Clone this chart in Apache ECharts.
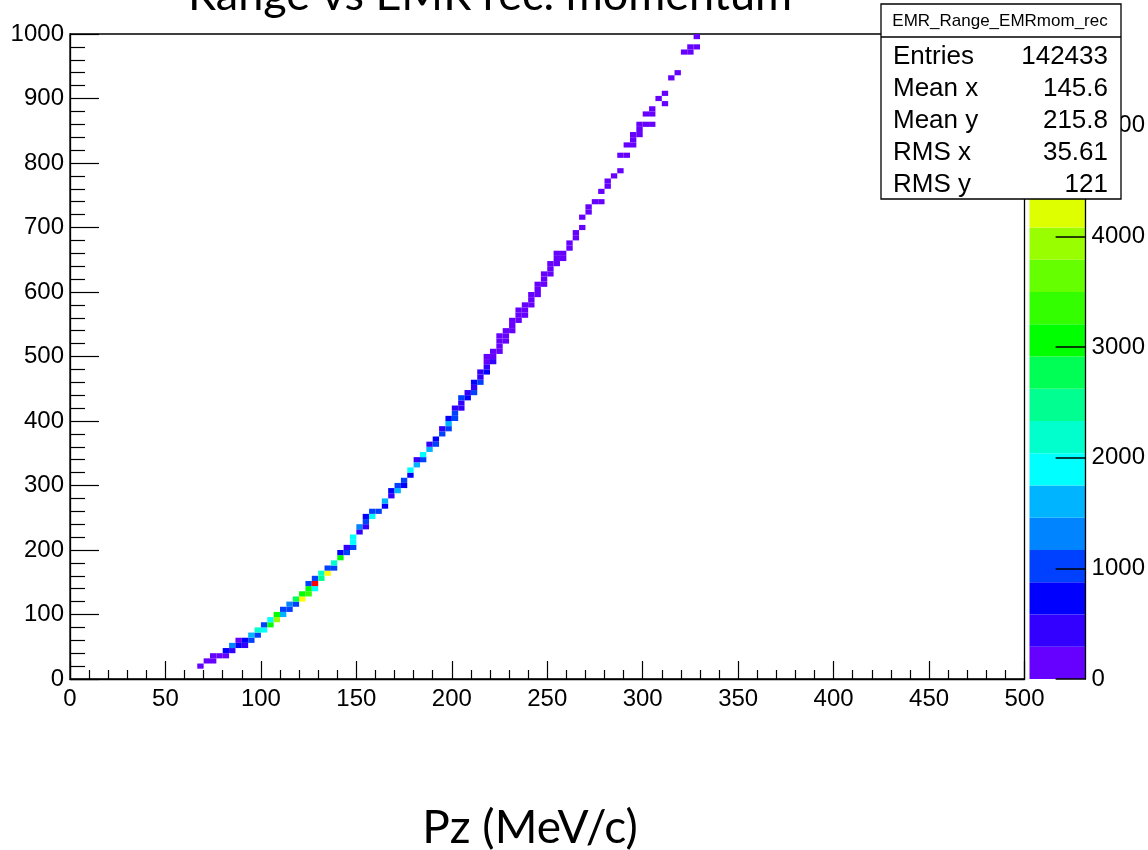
<!DOCTYPE html>
<html><head><meta charset="utf-8">
<script src="https://cdn.jsdelivr.net/npm/echarts@6/dist/echarts.min.js"></script>
<style>html,body{margin:0;padding:0;background:#fff}#c{width:1148px;height:850px}</style>
</head><body><div id="c"></div>
<script>
const chartTitle = 'Range vs EMR rec. momentum';
const xTitle = 'Pz (MeV/c)';
const statsName = 'EMR_Range_EMRmom_rec';
const statsLabels = ['Entries', 'Mean x', 'Mean y', 'RMS x', 'RMS y'];
const statsValues = ['142433', '145.6', '215.8', '35.61', '121'];

// histogram bin widths (x: MeV/c, y: range)
const xBinWidth = 10 / 3;
const yBinWidth = 8;

// colour contour levels of the z axis and their colours
const contourLevels = [0, 291.5, 583, 874.5, 1166, 1457.5, 1749, 2040.5, 2332, 2623.5, 2915,
  3206.5, 3498, 3789.5, 4081, 4372.5, 4664, 4955.5, 5247, 5538.5, 5830];
const paletteColors = ['#6600ff', '#3300ff', '#0000ff', '#0040ff', '#0084ff', '#00b4ff', '#00ffff',
  '#00ffcc', '#00ff90', '#00ff55', '#00ff00', '#33ff00', '#66ff00', '#99ff00', '#ddff00',
  '#ffff00', '#ffcc00', '#ff9900', '#ff5500', '#ff0000'];

// filled bins: lower x edge, lower y edge, content
const cellX = [66.67, 70, 73.33, 73.33, 76.67, 80, 80, 83.33, 83.33, 86.67, 86.67, 90, 90, 93.33, 93.33,
  96.67, 96.67, 100, 100, 103.33, 103.33, 106.67, 106.67, 110, 110, 113.33, 113.33, 116.67, 116.67,
  120, 120, 123.33, 123.33, 123.33, 126.67, 126.67, 126.67, 130, 130, 133.33, 133.33, 136.67, 136.67,
  140, 140, 143.33, 143.33, 146.67, 146.67, 146.67, 150, 150, 153.33, 153.33, 153.33, 156.67, 156.67,
  160, 163.33, 163.33, 166.67, 166.67, 170, 170, 173.33, 173.33, 176.67, 176.67, 180, 180, 183.33, 183.33,
  186.67, 186.67, 190, 190, 193.33, 193.33, 196.67, 196.67, 196.67, 200, 200, 200, 203.33, 203.33, 203.33,
  206.67, 206.67, 210, 210, 210, 213.33, 213.33, 213.33, 216.67, 216.67, 216.67, 216.67, 220, 220, 220,
  223.33, 223.33, 223.33, 223.33, 226.67, 226.67, 226.67, 230, 230, 230, 233.33, 233.33, 233.33,
  236.67, 236.67, 236.67, 240, 240, 240, 243.33, 243.33, 243.33, 246.67, 246.67, 246.67, 250, 250, 250,
  253.33, 253.33, 253.33, 256.67, 256.67, 260, 260, 263.33, 263.33, 266.67, 266.67, 270, 270, 273.33,
  276.67, 276.67, 280, 280, 283.33, 286.67, 286.67, 290, 290, 293.33, 293.33, 293.33, 296.67, 296.67, 296.67,
  300, 300, 303.33, 303.33, 303.33, 306.67, 310, 310, 313.33, 316.67, 320, 323.33, 323.33, 326.67, 326.67];
const cellY = [16, 24, 24, 32, 32, 32, 40, 40, 48, 48, 56, 48, 56, 56, 64,
  64, 72, 72, 80, 80, 88, 88, 96, 96, 104, 104, 112, 112, 120,
  120, 128, 128, 136, 144, 136, 144, 152, 152, 160, 160, 168, 168, 176,
  184, 192, 192, 200, 200, 208, 216, 224, 232, 232, 240, 248, 248, 256,
  256, 264, 272, 280, 288, 288, 296, 296, 304, 312, 320, 328, 336, 336, 344,
  352, 360, 360, 368, 376, 384, 384, 392, 400, 400, 408, 416, 416, 424, 432,
  432, 440, 440, 448, 456, 456, 464, 472, 472, 480, 488, 496, 488, 496, 504,
  504, 512, 520, 528, 520, 528, 536, 536, 544, 552, 552, 560, 568,
  560, 568, 576, 576, 584, 592, 592, 600, 608, 608, 616, 624, 624, 632, 640,
  640, 648, 656, 648, 656, 664, 672, 680, 688, 696, 712, 720, 728, 736,
  736, 752, 760, 768, 776, 784, 808, 808, 824, 824, 832, 840, 840, 848, 856,
  856, 872, 856, 872, 880, 896, 888, 904, 928, 936, 968, 968, 976, 976, 992];
const cellZ = [150, 200, 200, 250, 250, 250, 700, 450, 1300, 800, 250, 400, 700, 900, 1600,
  1000, 2100, 1900, 1100, 3100, 2000, 3900, 3200, 1700, 1000, 1100, 1300, 1000, 2900,
  4500, 3100, 3400, 3000, 1100, 2000, 5700, 900, 2500, 2200, 4600, 900, 1000, 2300,
  3000, 700, 1000, 500, 900, 1800, 1900, 300, 1200, 400, 1000, 600, 1900, 900,
  1100, 800, 1700, 300, 800, 1500, 900, 700, 1000, 600, 1800, 1600, 400, 900, 1800,
  1500, 400, 900, 800, 1000, 500, 1100, 1500, 600, 1000, 900, 300, 400, 350, 900,
  600, 500, 900, 400, 600, 900, 500, 300, 700, 400, 250, 200, 300, 250, 250,
  250, 200, 200, 150, 150, 200, 200, 200, 200, 200, 200, 200, 150,
  150, 200, 200, 200, 200, 150, 200, 200, 150, 200, 200, 100, 150, 150, 100,
  150, 150, 100, 150, 150, 100, 100, 100, 100, 80, 80, 80, 80, 80,
  60, 60, 60, 60, 60, 60, 50, 50, 50, 50, 50, 50, 50, 50, 40,
  40, 40, 40, 40, 40, 30, 30, 30, 30, 30, 30, 30, 30, 30, 40];

function colorFor(z) {
  for (let i = 0; i < paletteColors.length; i++) {
    if (z < contourLevels[i + 1]) return paletteColors[i];
  }
  return paletteColors[paletteColors.length - 1];
}

const cells = cellX.map((x, i) => [x, cellY[i], cellZ[i]]);
const bands = paletteColors.map((c, i) => [contourLevels[i], contourLevels[i + 1], i]);

const tickFont = 'Liberation Sans';
const plainNum = v => String(v);
const chart = echarts.init(document.getElementById('c'), null, {renderer: 'canvas'});

const statsChildren = [
  {type: 'rect', z: 100, shape: {x: 881, y: 4, width: 240, height: 195},
   style: {fill: '#fff', stroke: '#000', lineWidth: 1.3}},
  {type: 'line', z: 101, shape: {x1: 881, y1: 37, x2: 1121, y2: 37},
   style: {stroke: '#000', lineWidth: 1.3}},
  {type: 'text', z: 101, x: 1000, y: 21,
   style: {text: statsName, fontSize: 17, fontFamily: tickFont, fill: '#000', align: 'center', verticalAlign: 'middle'}}
];
statsLabels.forEach((lab, i) => {
  const yy = 57 + i * 32;
  statsChildren.push({type: 'text', z: 101, x: 893, y: yy,
    style: {text: lab, fontSize: 26, fontFamily: tickFont, fill: '#000', align: 'left', verticalAlign: 'middle'}});
  statsChildren.push({type: 'text', z: 101, x: 1108, y: yy,
    style: {text: statsValues[i], fontSize: 26, fontFamily: tickFont, fill: '#000', align: 'right', verticalAlign: 'middle'}});
});

const option = {
  backgroundColor: '#fff',
  animation: false,
  grid: [
    {left: 70, top: 34, right: 123.5, bottom: 171, show: true, borderColor: '#000', borderWidth: 1.3, backgroundColor: 'transparent'},
    {left: 1029.5, top: 34, right: 62, bottom: 171}
  ],
  xAxis: [
    {gridIndex: 0, type: 'value', min: 0, max: 500, interval: 50,
     axisLine: {onZero: false, lineStyle: {color: '#000', width: 1.3}},
     axisTick: {inside: true, length: 18, lineStyle: {color: '#000', width: 1.2}},
     minorTick: {show: true, splitNumber: 5, length: 9, lineStyle: {color: '#000', width: 1.2}},
     axisLabel: {fontSize: 24, fontFamily: tickFont, color: '#000', margin: 8, formatter: plainNum},
     splitLine: {show: false}},
    {gridIndex: 1, type: 'value', min: 0, max: 1, show: false}
  ],
  yAxis: [
    {gridIndex: 0, type: 'value', min: 0, max: 1000, interval: 100,
     axisLine: {onZero: false, lineStyle: {color: '#000', width: 1.3}},
     axisTick: {inside: true, length: 29, lineStyle: {color: '#000', width: 1.2}},
     minorTick: {show: true, splitNumber: 5, length: 15, lineStyle: {color: '#000', width: 1.2}},
     axisLabel: {fontSize: 24, fontFamily: tickFont, color: '#000', margin: 6, formatter: plainNum},
     splitLine: {show: false}},
    {gridIndex: 1, type: 'value', min: 0, max: 5830, interval: 1000, position: 'right', z: 10,
     axisLine: {show: true, onZero: false, lineStyle: {color: '#000', width: 1.3}},
     axisTick: {show: true, inside: true, length: 30, lineStyle: {color: '#000', width: 1.5}},
     axisLabel: {fontSize: 24, fontFamily: tickFont, color: '#000', margin: 6, showMaxLabel: false, formatter: plainNum},
     splitLine: {show: false}}
  ],
  series: [
    {type: 'custom', xAxisIndex: 0, yAxisIndex: 0, clip: true, data: cells,
     encode: {x: 0, y: 1},
     renderItem: function (params, api) {
       const x = api.value(0), y = api.value(1), z = api.value(2);
       const p0 = api.coord([x, y + yBinWidth]);
       const p1 = api.coord([x + xBinWidth, y]);
       return {type: 'rect', shape: {x: p0[0], y: p0[1], width: p1[0] - p0[0], height: p1[1] - p0[1]},
               style: {fill: colorFor(z)}};
     }},
    {type: 'custom', xAxisIndex: 1, yAxisIndex: 1, data: bands, z: 1,
     encode: {y: [0, 1]},
     renderItem: function (params, api) {
       const lo = api.value(0), hi = api.value(1), idx = api.value(2);
       const p0 = api.coord([0, hi]);
       const p1 = api.coord([1, lo]);
       return {type: 'rect', shape: {x: p0[0], y: p0[1], width: p1[0] - p0[0], height: p1[1] - p0[1]},
               style: {fill: paletteColors[idx]}};
     }}
  ],
  graphic: [
    {type: 'text', x: 490, y: 18, z: 50,
     style: {text: chartTitle, fontSize: 45, fontFamily: 'Lato', fill: '#000', align: 'center', verticalAlign: 'bottom'}},
    {type: 'text', x: 530, y: 828, z: 50,
     style: {text: xTitle, fontSize: 46, fontFamily: 'Lato', fill: '#000', align: 'center', verticalAlign: 'middle'}},
    {type: 'group', z: 100, children: statsChildren}
  ]
};
chart.setOption(option);
</script>
</body></html>
